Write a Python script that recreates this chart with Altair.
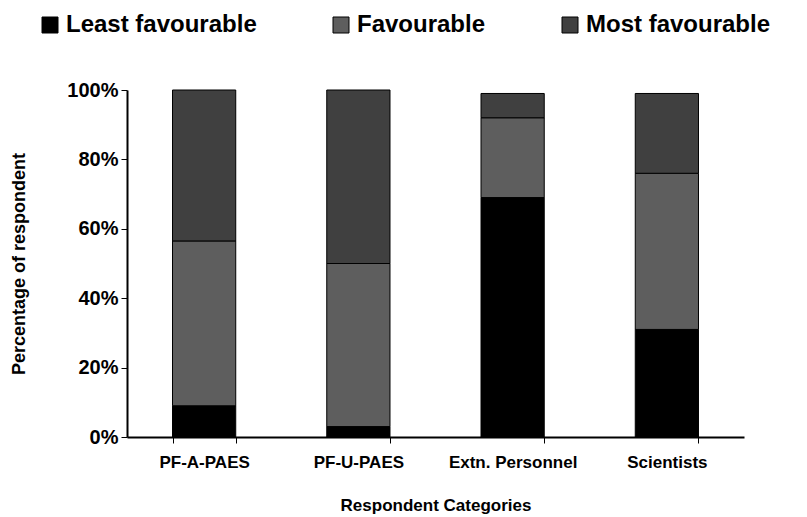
import altair as alt
import pandas as pd

categories = ["PF-A-PAES", "PF-U-PAES", "Extn. Personnel", "Scientists"]
series = ["Least favourable", "Favourable", "Most favourable"]
least = [9, 3, 69, 31]
fav = [47.5, 47, 23, 45]
most = [43.5, 50, 7, 23]

rows = []
for i, c in enumerate(categories):
    for j, (s, vals) in enumerate(zip(series, [least, fav, most])):
        rows.append({"cat": c, "series": s, "val": vals[i] / 100.0, "ord": j})
df = pd.DataFrame(rows)

font = "Liberation Sans"

chart = alt.Chart(df).mark_bar(stroke="black", strokeWidth=1).encode(
    x=alt.X("cat:N", sort=categories,
            scale=alt.Scale(paddingInner=0.59, paddingOuter=0.295),
            axis=alt.Axis(title="Respondent Categories", labelAngle=0, tickBand="extent",
                          labelFontSize=17, labelFont=font, labelFontWeight="bold",
                          titleFontSize=17, titleFont=font, titleFontWeight="bold",
                          labelPadding=11, titlePadding=27, domainColor="black",
                          tickColor="black", labelColor="black", titleColor="black",
                          tickSize=6, domainWidth=2, labelLimit=300)),
    y=alt.Y("val:Q", stack="zero",
            scale=alt.Scale(domain=[0, 1]),
            axis=alt.Axis(title="Percentage of respondent", format=".0%", values=[0, 0.2, 0.4, 0.6, 0.8, 1.0],
                          grid=False, labelFontSize=20, labelFont=font, labelFontWeight="bold",
                          titleFontSize=18, titleFont=font, titleFontWeight="bold",
                          labelPadding=3, titlePadding=38, domainColor="black", tickColor="black",
                          labelColor="black", titleColor="black", tickSize=6, domainWidth=2)),
    color=alt.Color("series:N", sort=series,
                    scale=alt.Scale(domain=series, range=["#000000", "#5e5e5e", "#404040"]),
                    legend=alt.Legend(title=None, orient="none", legendX=-89, legendY=-77,
                                      direction="horizontal", columns=3, symbolType="square",
                                      symbolSize=256, symbolStrokeColor="black", symbolStrokeWidth=1,
                                      labelFontSize=24, labelFont=font, labelFontWeight="bold",
                                      labelColor="black", columnPadding=72, labelOffset=4,
                                      labelLimit=400)),
    order=alt.Order("ord:Q"),
).properties(width=617, height=347, background="white",
             padding={"left": 2, "top": 5, "right": 0, "bottom": 2}
).configure_view(strokeWidth=0)

chart.save("out.html", embed_options={"renderer": "svg", "actions": False})
